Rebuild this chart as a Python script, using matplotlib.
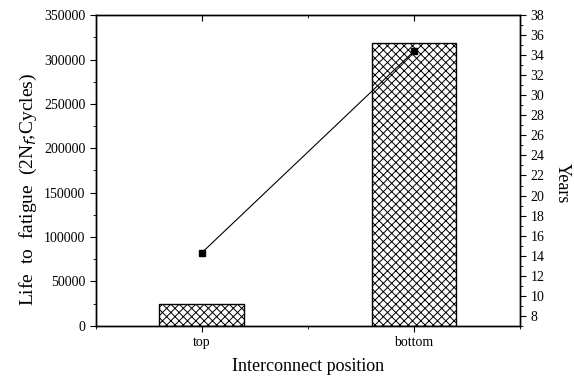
import numpy as np
import matplotlib
matplotlib.use('Agg')
from matplotlib import pyplot as plt
from matplotlib.ticker import MultipleLocator

positions = ['top', 'bottom']
cycles = [25000, 319000]
years = [14.3, 34.4]

plt.rcParams['font.family'] = ['Liberation Serif', 'DejaVu Serif']
plt.rcParams['hatch.linewidth'] = 0.7

fig = plt.figure(figsize=(5.74, 3.78), dpi=100)
ax = fig.add_axes([0.167, 0.138, 0.739, 0.822])

x = np.arange(1, len(positions) + 1)
ax.bar(x, cycles, width=0.4, color='white', edgecolor='black', hatch='xxxx', linewidth=1.0)
ax.set_xlim(0.5, 2.5)
ax.set_ylim(0, 350000)
ax.set_xticks(x)
ax.set_xticklabels(positions)
ax.xaxis.set_minor_locator(MultipleLocator(0.5))
ax.yaxis.set_major_locator(MultipleLocator(50000))
ax.yaxis.set_minor_locator(MultipleLocator(25000))
ax.tick_params(which='both', direction='out', labelsize=10)
ax.tick_params(axis='x', which='both', top=True)
ax.tick_params(which='major', length=4)
ax.tick_params(which='minor', length=2.5)
# top ticks point into the frame
for t in ax.xaxis.get_major_ticks() + ax.xaxis.get_minor_ticks():
    t.tick2line.set_marker(3)
ax.set_xlabel('Interconnect position', fontsize=13, labelpad=6)
ax.set_ylabel('Life  to  fatigue  (2N$_f$;Cycles)', fontsize=14)
ax.yaxis.set_label_coords(-0.135, 0.44)

ax2 = ax.twinx()
ax2.plot(x, years, color='black', linewidth=0.8, marker='s', markersize=4)
ax2.set_ylim(7, 38)
ax2.yaxis.set_major_locator(MultipleLocator(2))
ax2.yaxis.set_minor_locator(MultipleLocator(1))
ax2.tick_params(which='both', direction='out', labelsize=10)
ax2.tick_params(which='major', length=4)
ax2.tick_params(which='minor', length=2.5)
ax2.set_ylabel('Years', fontsize=13, rotation=270, va='center', ha='center')
ax2.yaxis.set_label_coords(1.1, 0.46)

for a in (ax, ax2):
    for s in a.spines.values():
        s.set_linewidth(1.0)

fig.savefig('out.png', dpi=100)
